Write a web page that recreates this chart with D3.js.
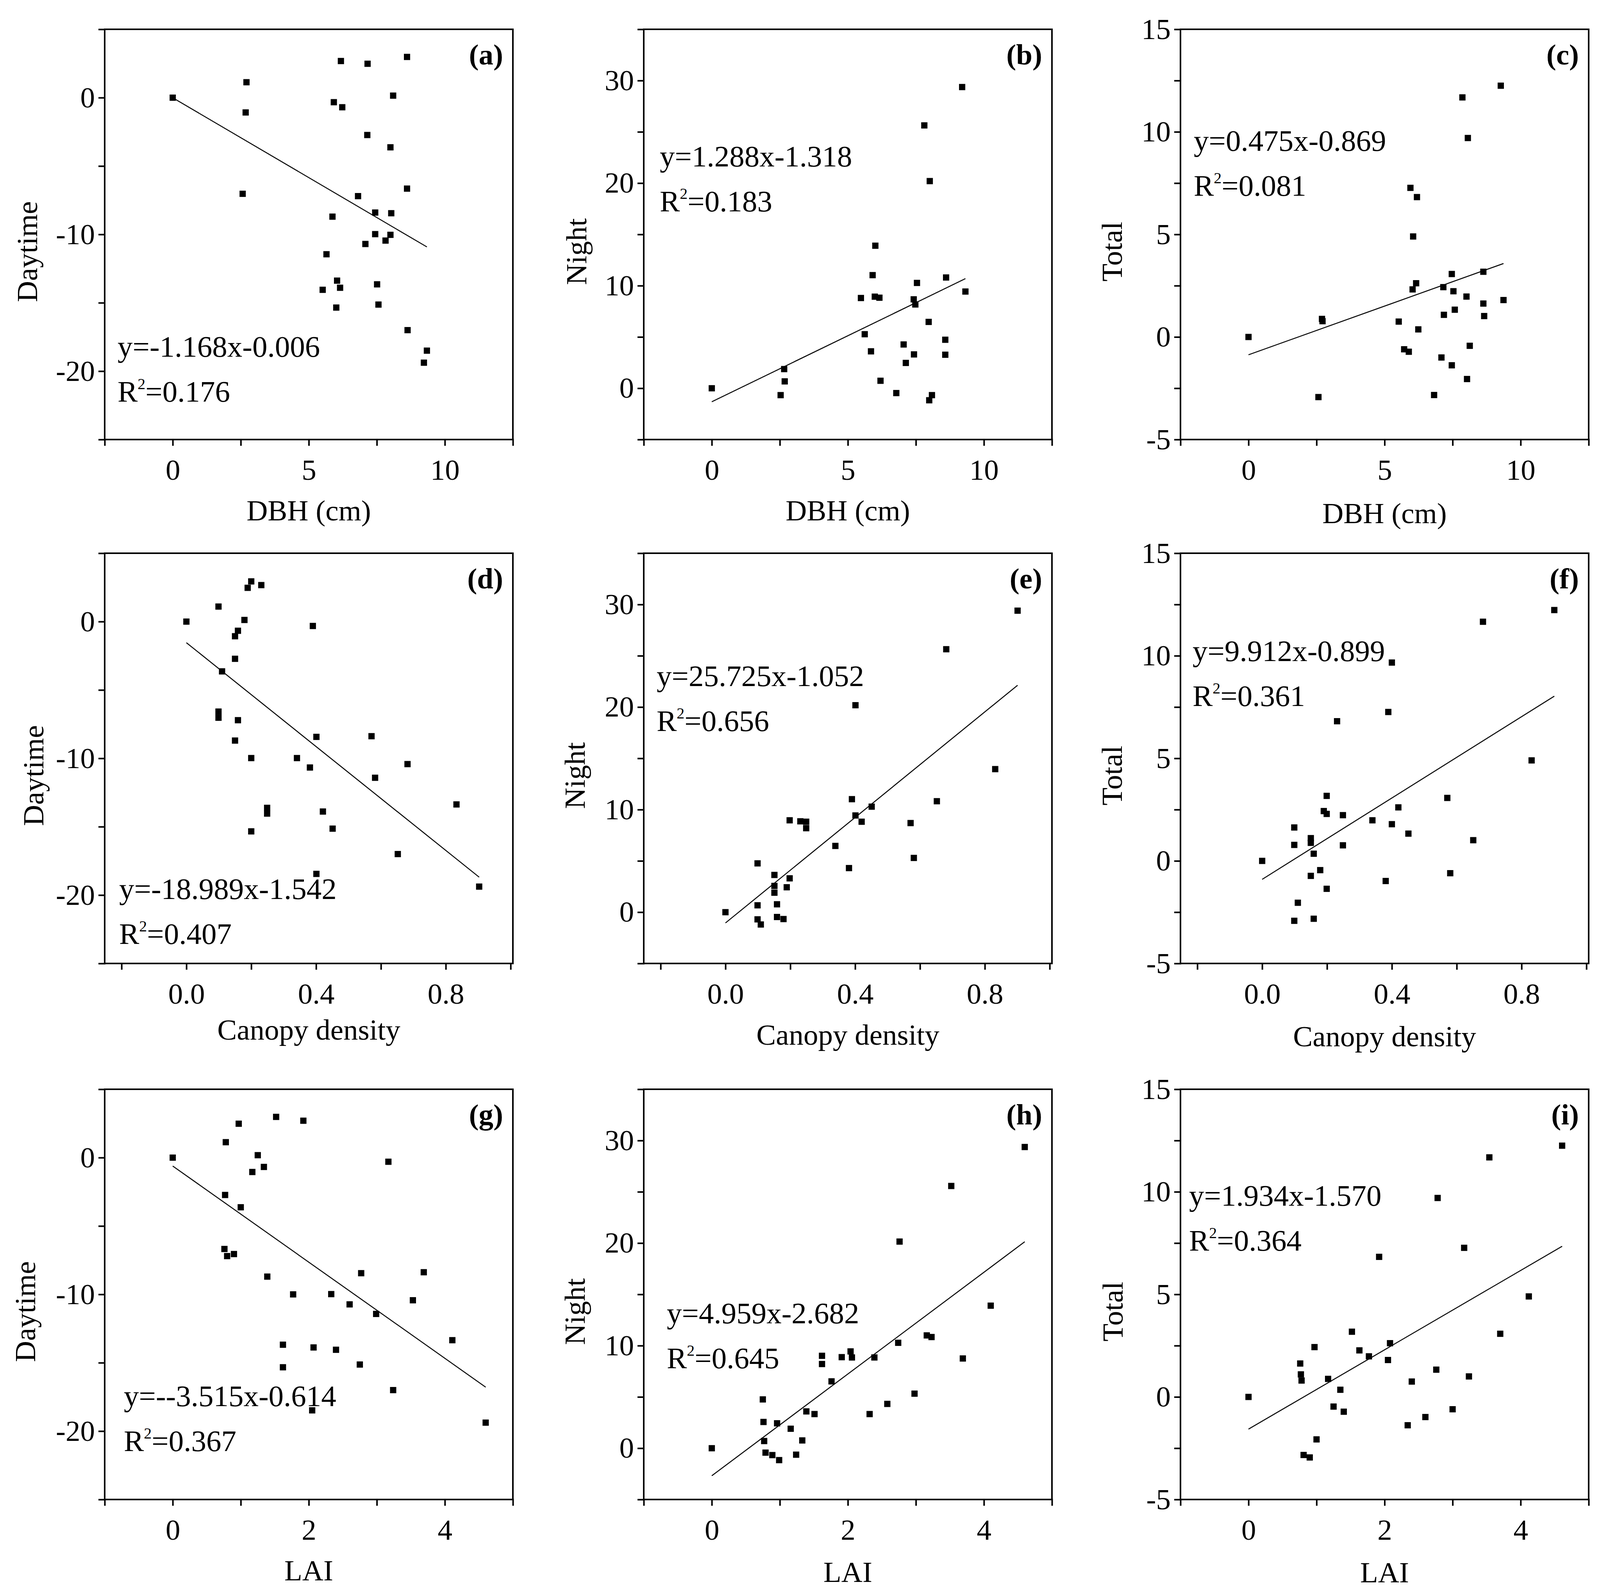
<!DOCTYPE html>
<html>
<head>
<meta charset="utf-8">
<script src="https://cdn.jsdelivr.net/npm/d3@7"></script>
<style>
body { margin: 0; background: #fff; }
svg text { font-family: "Liberation Serif", "Times New Roman", serif; fill: #000; }
</style>
</head>
<body>
<div id="chart"></div>
<script>
// ---- data ----
var aX = [0, 2.71, 2.68, 2.57, 6.18, 7.16, 8.61, 8.10, 5.92, 6.23, 7.15, 8.00, 8.61, 6.81, 7.44, 8.03, 5.87, 7.44, 8.00, 7.82, 7.08, 5.65, 6.04, 6.15, 5.51, 7.51, 6.01, 7.56, 8.63, 9.34, 9.23];
var aY = [0, 1.13, -1.08, -7.03, 2.68, 2.48, 2.98, 0.15, -0.33, -0.70, -2.73, -3.63, -6.65, -7.20, -8.40, -8.45, -8.70, -9.98, -10.03, -10.45, -10.70, -11.45, -13.38, -13.90, -14.05, -13.65, -15.35, -15.13, -17.00, -18.50, -19.38];

var bX = [0, 9.20, 7.81, 8.01, 6.01, 5.91, 7.54, 8.61, 9.32, 5.48, 5.99, 6.16, 7.42, 7.48, 7.97, 5.62, 8.58, 5.85, 7.05, 7.43, 8.58, 7.13, 2.66, 2.68, 6.20, 2.53, 6.78, 8.09, 7.99];
var bY = [0, 29.37, 25.63, 20.20, 13.90, 11.03, 10.27, 10.80, 9.43, 8.80, 8.93, 8.83, 8.67, 8.17, 6.47, 5.27, 4.73, 3.60, 4.27, 3.30, 3.27, 2.47, 1.87, 0.67, 0.73, -0.67, -0.47, -0.67, -1.17];

var cX = [0, 9.27, 7.86, 8.06, 5.95, 6.19, 6.05, 7.47, 8.63, 6.16, 6.03, 7.16, 7.53, 8.01, 9.37, 8.63, 7.58, 7.18, 8.66, 2.70, 2.72, 5.52, 6.24, 5.72, 5.89, 8.13, 7.09, 7.47, 8.03, 6.82, 2.57];
var cY = [0, 12.25, 11.68, 9.70, 7.27, 6.82, 4.90, 3.07, 3.18, 2.62, 2.32, 2.43, 2.23, 1.97, 1.80, 1.63, 1.33, 1.08, 1.02, 0.88, 0.77, 0.75, 0.37, -0.60, -0.72, -0.43, -1.00, -1.38, -2.05, -2.83, -2.93];

var dX = [0, 0.099, 0.200, 0.189, 0.231, 0.179, 0.390, 0.159, 0.150, 0.150, 0.110, 0.099, 0.099, 0.159, 0.150, 0.401, 0.571, 0.200, 0.341, 0.381, 0.682, 0.582, 0.249, 0.249, 0.421, 0.833, 0.200, 0.451, 0.652, 0.401, 0.903];
var dY = [0, 1.10, 2.94, 2.47, 2.67, 0.12, -0.32, -0.67, -1.07, -2.72, -3.64, -6.58, -7.03, -7.21, -8.70, -8.43, -8.38, -9.98, -9.98, -10.67, -10.42, -11.42, -13.62, -14.04, -13.89, -13.37, -15.34, -15.14, -17.00, -18.45, -19.38];

var eX = [0, 0.901, 0.681, 0.401, 0.832, 0.390, 0.652, 0.451, 0.401, 0.198, 0.231, 0.249, 0.249, 0.420, 0.571, 0.339, 0.581, 0.099, 0.381, 0.151, 0.198, 0.151, 0.189, 0.151, 0.099, 0.159, 0.159, 0.179, 0.099, 0.109];
var eY = [0, 29.40, 25.64, 20.18, 13.95, 11.02, 10.82, 10.29, 9.43, 8.96, 8.86, 8.82, 8.19, 8.82, 8.69, 6.46, 5.29, 4.76, 4.30, 3.63, 3.30, 2.56, 2.43, 1.90, 0.67, 0.77, -0.47, -0.67, -0.70, -1.20];

var fX = [0, 0.901, 0.681, 0.400, 0.389, 0.231, 0.831, 0.199, 0.571, 0.420, 0.190, 0.199, 0.249, 0.340, 0.400, 0.099, 0.451, 0.150, 0.150, 0.651, 0.099, 0.249, 0.159, 0.179, 0.150, 0.580, 0.381, 0.199, 0.110, 0.159, 0.099];
var fY = [0, 12.23, 11.66, 9.67, 7.26, 6.81, 4.90, 3.17, 3.07, 2.61, 2.43, 2.29, 2.23, 1.98, 1.79, 1.63, 1.33, 1.11, 0.88, 1.01, 0.78, 0.76, 0.35, -0.45, -0.73, -0.60, -0.98, -1.36, -2.04, -2.82, -2.92];

var gX = [0, 0.78, 0.97, 1.52, 1.92, 1.25, 3.17, 1.34, 1.17, 0.77, 1.00, 0.76, 0.80, 0.90, 1.39, 2.77, 3.69, 1.77, 2.33, 2.60, 3.53, 2.99, 1.62, 2.07, 2.40, 4.11, 1.62, 2.75, 3.24, 2.05, 4.60];
var gY = [0, 1.13, 2.48, 2.98, 2.70, 0.18, -0.30, -0.68, -1.05, -2.73, -3.63, -6.68, -7.20, -7.05, -8.70, -8.45, -8.38, -10.00, -9.98, -10.73, -10.43, -11.43, -13.68, -13.88, -14.05, -13.35, -15.33, -15.13, -17.00, -18.48, -19.38];

var hX = [0, 4.60, 3.52, 2.76, 4.10, 3.16, 3.23, 2.74, 2.04, 1.62, 1.91, 2.06, 2.39, 3.69, 1.62, 1.76, 2.98, 0.75, 2.58, 1.39, 1.51, 2.32, 0.76, 0.96, 1.16, 0.77, 1.33, 0.79, 0.89, 1.24, 0.99];
var hY = [0, 29.37, 25.57, 20.15, 13.90, 11.00, 10.84, 10.28, 9.44, 9.01, 8.88, 8.85, 8.85, 8.75, 8.21, 6.52, 5.32, 4.76, 4.32, 3.59, 3.33, 3.33, 2.56, 2.43, 1.90, 0.70, 0.76, -0.43, -0.67, -0.63, -1.16];

var iX = [0, 4.61, 3.54, 2.78, 3.17, 1.92, 4.12, 1.52, 3.70, 0.97, 2.08, 1.63, 1.77, 2.05, 0.76, 2.76, 0.77, 0.78, 1.17, 3.24, 2.40, 1.35, 1.25, 1.40, 3.00, 2.60, 2.34, 1.00, 0.81, 0.90];
var iY = [0, 12.25, 11.68, 9.70, 7.27, 6.83, 4.90, 3.18, 3.08, 2.43, 2.62, 2.27, 1.98, 1.80, 1.63, 1.33, 1.10, 0.80, 0.88, 1.00, 0.75, 0.35, -0.47, -0.72, -0.60, -0.98, -1.38, -2.07, -2.83, -2.95];

// regression coefficients and printed labels
var slopes     = [-1.168, 1.288, 0.475, -18.989, 25.725, 9.912, -3.515, 4.959, 1.934];
var intercepts = [-0.006, -1.318, -0.869, -1.542, -1.052, -0.899, -0.614, -2.682, -1.570];
var eqLabels = ["y=-1.168x-0.006", "y=1.288x-1.318", "y=0.475x-0.869",
                "y=-18.989x-1.542", "y=25.725x-1.052", "y=9.912x-0.899",
                "y=--3.515x-0.614", "y=4.959x-2.682", "y=1.934x-1.570"];
var r2Labels = ["0.176", "0.183", "0.081", "0.407", "0.656", "0.361", "0.367", "0.645", "0.364"];
var panelTags = ["(a)", "(b)", "(c)", "(d)", "(e)", "(f)", "(g)", "(h)", "(i)"];

// axes
var xTitles = ["DBH (cm)", "Canopy density", "LAI"];
var yTitles = ["Daytime", "Night", "Total"];
var dbhTicks = [-2.5, 0, 2.5, 5, 7.5, 10, 12.5], dbhLabels = [0, 5, 10];
var canopyTicks = [-0.2, 0, 0.2, 0.4, 0.6, 0.8, 1.0], canopyLabels = [0, 0.4, 0.8];
var laiTicks = [-1, 0, 1, 2, 3, 4, 5], laiLabels = [0, 2, 4];
var dayTicks = [-25, -20, -15, -10, -5, 0, 5], dayLabels = [-20, -10, 0];
var nightTicks = [-5, 0, 5, 10, 15, 20, 25, 30, 35], nightLabels = [0, 10, 20, 30];
var totalTicks = [-5, -2.5, 0, 2.5, 5, 7.5, 10, 12.5, 15], totalLabels = [-5, 0, 5, 10, 15];

var xAxes = [
  {domain: [-2.5, 12.5], ticks: dbhTicks, labels: dbhLabels, fmt: d3.format("d")},
  {domain: [-0.252, 1.007], ticks: canopyTicks, labels: canopyLabels, fmt: d3.format(".1f")},
  {domain: [-1, 5], ticks: laiTicks, labels: laiLabels, fmt: d3.format("d")}
];
var yAxes = [
  {domain: [-25, 5], ticks: dayTicks, labels: dayLabels},
  {domain: [-5, 35], ticks: nightTicks, labels: nightLabels},
  {domain: [-5, 15], ticks: totalTicks, labels: totalLabels}
];

var xs = [aX, bX, cX, dX, eX, fX, gX, hX, iX];
var ys = [aY, bY, cY, dY, eY, fY, gY, hY, iY];

// ---- layout ----
const width = 4115, height = 4085;
const W = 1045, H = 1050;
const colLeft = [268, 1648, 3022];
const rowTop = [75, 1416, 2788];
const FS = 75;
// text placement inside each panel (px from frame left / top)
const eqPos = [[33, 838], [41, 351], [34, 311], [37, 885], [33, 340], [31, 276], [49, 811], [59, 599], [22, 298]];
const yTitleOff = [173, 147, 150, 157, 151, 150, 178, 151, 148];
const xTitleOff = [207, 207, 214, 195, 208, 212, 207, 211, 212];

var svg = d3.select("#chart").append("svg")
  .attr("width", width)
  .attr("height", height);
svg.append("rect").attr("width", width).attr("height", height).attr("fill", "#fff");

function num(v) { return (v < 0 ? "-" : "") + Math.abs(v); }

for (let k = 0; k < 9; k++) {
  let row = Math.floor(k / 3), col = k % 3;
  let xa = xAxes[row], ya = yAxes[col];
  let g = svg.append("g").attr("transform", `translate(${colLeft[col]},${rowTop[row]})`);

  let x = d3.scaleLinear().domain(xa.domain).range([0, W]);
  let y = d3.scaleLinear().domain(ya.domain).range([H, 0]);

  let xAxis = d3.axisBottom(x).tickValues(xa.ticks).tickSize(14).tickSizeOuter(0).tickPadding(36)
    .tickFormat(d => xa.labels.some(l => Math.abs(l - d) < 1e-9) ? xa.fmt(d) : "");
  let yAxis = d3.axisLeft(y).tickValues(ya.ticks).tickSize(14).tickSizeOuter(0).tickPadding(11)
    .tickFormat(d => ya.labels.indexOf(d) >= 0 ? num(d) : "");

  let gx = g.append("g").attr("transform", `translate(0,${H})`).call(xAxis);
  let gy = g.append("g").call(yAxis);
  [gx, gy].forEach(a => {
    a.select(".domain").remove();
    a.selectAll(".tick line").attr("stroke", "#000").attr("stroke-width", 4).attr("stroke-linecap", "square");
    a.selectAll(".tick text").attr("font-size", FS).attr("font-family", "Liberation Serif");
  });

  // frame
  g.append("rect").attr("width", W).attr("height", H)
    .attr("fill", "none").attr("stroke", "#000").attr("stroke-width", 4);

  // regression line over the data range
  let ext = d3.extent(xs[k]);
  g.append("line")
    .attr("x1", x(ext[0])).attr("y1", y(slopes[k] * ext[0] + intercepts[k]))
    .attr("x2", x(ext[1])).attr("y2", y(slopes[k] * ext[1] + intercepts[k]))
    .attr("stroke", "#000").attr("stroke-width", 2.5);

  // points
  const S = 16;
  g.selectAll("rect.pt").data(xs[k].map((v, i) => [v, ys[k][i]]))
    .enter().append("rect").attr("class", "pt")
    .attr("x", d => x(d[0]) - S / 2).attr("y", d => y(d[1]) - S / 2)
    .attr("width", S).attr("height", S).attr("fill", "#000");

  // equation + R^2
  let ex = eqPos[k][0], ey = eqPos[k][1];
  g.append("text").attr("x", ex).attr("y", ey).attr("font-size", FS + 2).text(eqLabels[k]);
  let r = g.append("text").attr("x", ex).attr("y", ey + 115).attr("font-size", FS + 2);
  r.append("tspan").text("R");
  r.append("tspan").attr("font-size", 40).attr("dy", -32).text("2");
  r.append("tspan").attr("dy", 32).text("=" + r2Labels[k]);

  // panel tag
  g.append("text").attr("x", W - 25).attr("y", 90).attr("text-anchor", "end")
    .attr("font-size", FS).attr("font-weight", "bold").text(panelTags[k]);

  // axis titles
  g.append("text").attr("x", W / 2).attr("y", H + xTitleOff[k]).attr("text-anchor", "middle")
    .attr("font-size", FS).text(xTitles[row]);
  g.append("text").attr("transform", `translate(${-yTitleOff[k]},${H / 2 + 44}) rotate(-90)`)
    .attr("text-anchor", "middle").attr("font-size", FS).text(yTitles[col]);
}
</script>
</body>
</html>
